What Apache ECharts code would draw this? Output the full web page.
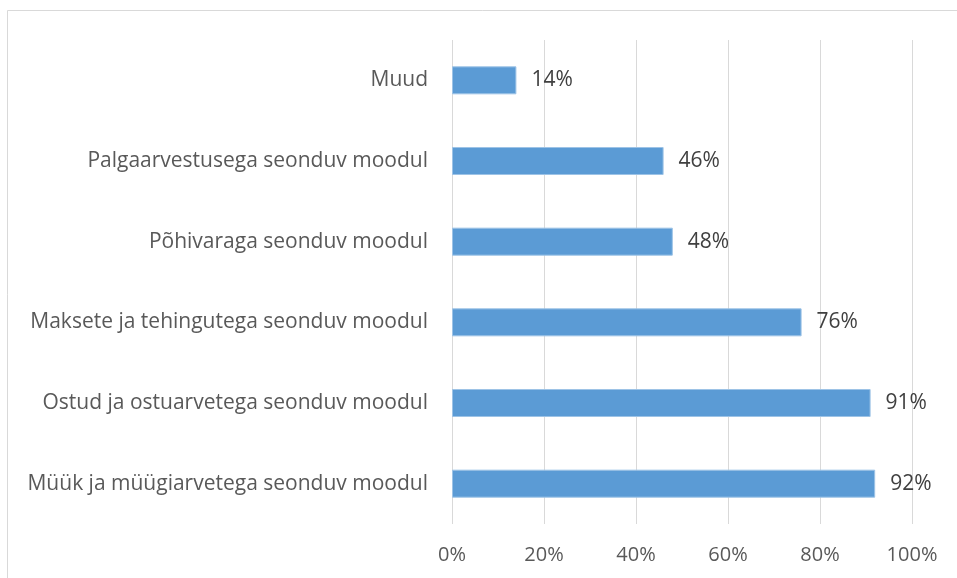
<!DOCTYPE html>
<html>
<head>
<meta charset="utf-8">
<script src="https://cdn.jsdelivr.net/npm/echarts@6/dist/echarts.min.js"></script>
<style>
  html, body { margin: 0; padding: 0; background: #fff; }
  #chart { width: 957px; height: 578px; }
</style>
</head>
<body>
<div id="chart"></div>
<script>
// Module categories, top to bottom
const categories = [
  'Muud',
  'Palgaarvestusega seonduv moodul',
  'Põhivaraga seonduv moodul',
  'Maksete ja tehingutega seonduv moodul',
  'Ostud ja ostuarvetega seonduv moodul',
  'Müük ja müügiarvetega seonduv moodul'
];
// Share of respondents, percent
const shares = [14, 46, 48, 76, 91, 92];
// Value axis ticks (percent)
const axisMin = 0;
const axisMax = 100;
const axisStep = 20;

const FONT = 'Open Sans';
const TEXT = '#595959';

const chart = echarts.init(document.getElementById('chart'), null, { renderer: 'canvas' });
chart.setOption({
  animation: false,
  backgroundColor: '#fff',
  graphic: [{
    type: 'rect',
    shape: { x: 7.5, y: 10.5, width: 1000, height: 1000 },
    style: { fill: 'none', stroke: '#D9D9D9', lineWidth: 1 },
    silent: true
  }],
  grid: { left: 452, right: 45, top: 40, bottom: 54, containLabel: false },
  xAxis: {
    type: 'value',
    min: axisMin,
    max: axisMax,
    interval: axisStep,
    axisLine: { show: false },
    axisTick: { show: false },
    splitLine: { show: true, lineStyle: { color: '#D9D9D9', width: 1 } },
    axisLabel: {
      formatter: v => v + '%',
      color: TEXT,
      fontFamily: FONT,
      fontSize: 20,
      margin: 21
    }
  },
  yAxis: {
    type: 'category',
    data: categories,
    inverse: true,
    axisLine: { show: false },
    axisTick: { show: false },
    axisLabel: {
      color: TEXT,
      fontFamily: FONT,
      fontSize: 21,
      margin: 24
    }
  },
  series: [{
    type: 'bar',
    data: shares,
    barWidth: 28,
    itemStyle: { color: '#5B9BD5', borderColor: '#9DC3E6', borderWidth: 1 },
    label: {
      show: true,
      position: 'right',
      distance: 15,
      formatter: p => p.value + '%',
      color: '#404040',
      fontFamily: FONT,
      fontSize: 21
    }
  }]
});
</script>
</body>
</html>
